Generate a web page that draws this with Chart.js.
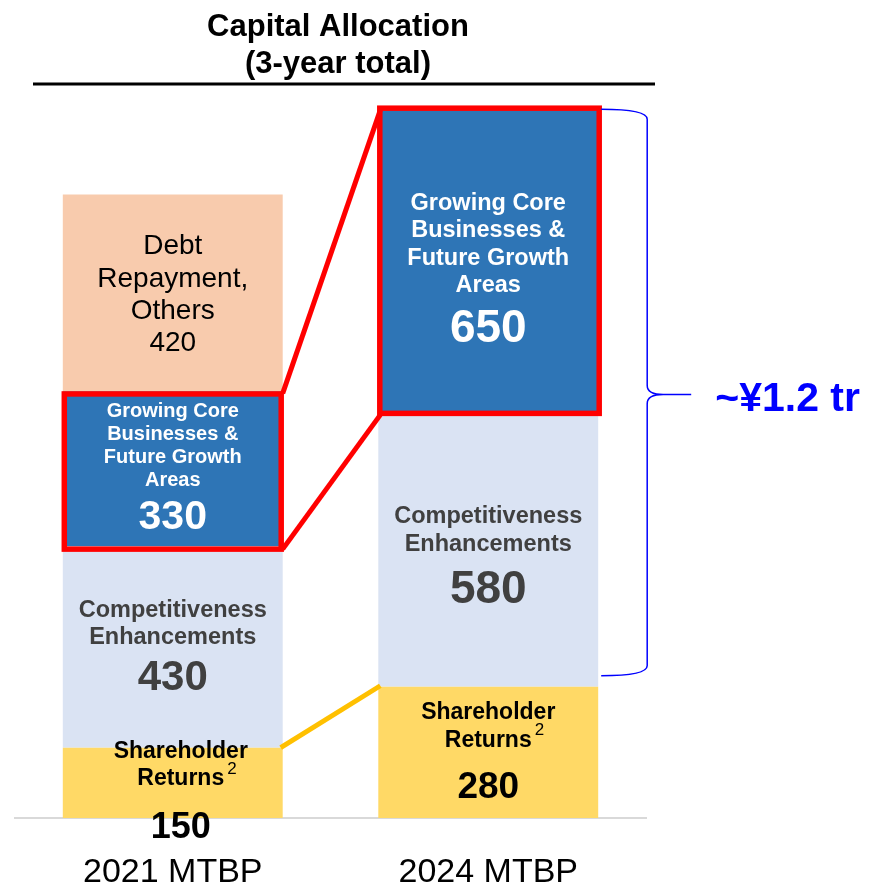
<!DOCTYPE html>
<html>
<head>
<meta charset="utf-8">
<script src="https://cdn.jsdelivr.net/npm/chart.js@4"></script>
<style>
html,body{margin:0;padding:0;background:#fff;overflow:hidden;}
canvas{display:block;}
</style>
</head>
<body>
<canvas id="c" width="869" height="885"></canvas>
<script>
// ---- data ----
const categories = ['2021 MTBP', '2024 MTBP'];
const shareholderReturns = [150, 280];
const competitiveness = [430, 580];
const growingCore = [330, 650];
const debtRepayment = [420, 0];
const titleLines = ['Capital Allocation', '(3-year total)'];
const totalLabel = '~\u00a51.2 tr';

const FONT = '"Liberation Sans", Arial, sans-serif';
const C_YELLOW = '#FFD966', C_LIGHT = '#DAE3F3', C_BLUE = '#2E75B6', C_PEACH = '#F8CBAD';

// label layouts per dataset per bar (styles only, values come from arrays)
function labelSpec(ds, i) {
  const v = [shareholderReturns, competitiveness, growingCore, debtRepayment][ds][i];
  if (ds === 0) {
    const dx = i === 0 ? 8 : 0;
    const dys = i === 0 ? [-31, -4, 45] : [-40, -12, 35];
    const numSize = i === 0 ? 36 : 37;
    return [
      {t: 'Shareholder', s: 23, b: true, c: '#000', dy: dys[0], dx},
      {t: 'Returns', s: 23, b: true, c: '#000', dy: dys[1], dx, sup: '2'},
      {t: String(v), s: numSize, b: true, c: '#000', dy: dys[2], dx}
    ];
  }
  if (ds === 1) {
    const dys = i === 0 ? [-36, -9, 32] : [-34, -6, 39];
    const ts = i === 0 ? 23.5 : 23.5, ns = i === 0 ? 42 : 46;
    return [
      {t: 'Competitiveness', s: ts, b: true, c: '#404040', dy: dys[0]},
      {t: 'Enhancements', s: ts, b: true, c: '#404040', dy: dys[1]},
      {t: String(v), s: ns, b: true, c: '#404040', dy: dys[2]}
    ];
  }
  if (ds === 2) {
    const dys = i === 0 ? [-57, -34, -11, 12, 49] : [-59, -32, -4, 23, 67];
    const ts = i === 0 ? 20 : 23.5, ns = i === 0 ? 41 : 46;
    return [
      {t: 'Growing Core', s: ts, b: true, c: '#fff', dy: dys[0]},
      {t: 'Businesses &', s: ts, b: true, c: '#fff', dy: dys[1]},
      {t: 'Future Growth', s: ts, b: true, c: '#fff', dy: dys[2]},
      {t: 'Areas', s: ts, b: true, c: '#fff', dy: dys[3]},
      {t: String(v), s: ns, b: true, c: '#fff', dy: dys[4]}
    ];
  }
  if (ds === 3 && v) {
    return [
      {t: 'Debt', s: 28, b: false, c: '#000', dy: -47},
      {t: 'Repayment,', s: 28, b: false, c: '#000', dy: -14},
      {t: 'Others', s: 28, b: false, c: '#000', dy: 18},
      {t: String(v), s: 28, b: false, c: '#000', dy: 50}
    ];
  }
  return [];
}

const overlay = {
  id: 'overlay',
  afterDatasetsDraw(chart) {
    const ctx = chart.ctx;
    const m = k => chart.getDatasetMeta(k).data;
    const sh = m(0), co = m(1), gr = m(2);
    const L = e => e.x - e.width / 2, R = e => e.x + e.width / 2;
    ctx.save();
    ctx.lineCap = 'butt';
    // yellow connector
    ctx.strokeStyle = '#FFC000'; ctx.lineWidth = 5;
    ctx.beginPath(); ctx.moveTo(R(sh[0]) - 2, sh[0].y); ctx.lineTo(L(sh[1]) + 2, sh[1].y - 1); ctx.stroke();
    // red connectors
    ctx.strokeStyle = '#FF0000'; ctx.lineWidth = 5;
    ctx.beginPath(); ctx.moveTo(R(gr[0]), gr[0].y + 2); ctx.lineTo(L(gr[1]) + 2, gr[1].y); ctx.stroke();
    ctx.beginPath(); ctx.moveTo(R(gr[0]), gr[0].base + 3); ctx.lineTo(L(gr[1]) + 2, gr[1].base); ctx.stroke();
    // red boxes
    ctx.lineWidth = 5.5; ctx.lineJoin = 'miter';
    ctx.strokeRect(L(gr[0]) + 1.5, gr[0].y + 2.5, gr[0].width - 3, gr[0].base - gr[0].y + 0.5);
    ctx.strokeRect(L(gr[1]) + 1.5, gr[1].y - 2, gr[1].width - 0.5, gr[1].base - gr[1].y + 0.5);
    // labels
    ctx.textAlign = 'center'; ctx.textBaseline = 'middle';
    for (let ds = 0; ds < 4; ds++) {
      m(ds).forEach((e, i) => {
        const cy = (e.y + e.base) / 2;
        labelSpec(ds, i).forEach(l => {
          ctx.font = (l.b ? 'bold ' : '') + l.s + 'px ' + FONT;
          ctx.fillStyle = l.c;
          const x = e.x + (l.dx || 0), y = cy + l.dy;
          ctx.fillText(l.t, x, y);
          if (l.sup) {
            const w = ctx.measureText(l.t).width;
            ctx.font = '17px ' + FONT;
            ctx.textAlign = 'left';
            ctx.fillText(l.sup, x + w / 2 + 3, y - 10);
            ctx.textAlign = 'center';
          }
        });
      });
    }
    // brace
    const top = gr[1].y - 1, bottom = co[1].base - 11, mid = (top + bottom) / 2 + 2;
    const x0 = R(gr[1]) + 3, xv = x0 + 46, tip = xv + 44;
    ctx.strokeStyle = '#0000FF'; ctx.lineWidth = 1.5;
    ctx.beginPath();
    ctx.moveTo(x0, top);
    ctx.quadraticCurveTo(xv, top, xv, top + 10);
    ctx.lineTo(xv, mid - 9);
    ctx.quadraticCurveTo(xv, mid, xv + 16, mid);
    ctx.lineTo(tip, mid);
    ctx.moveTo(xv + 16, mid);
    ctx.quadraticCurveTo(xv, mid, xv, mid + 9);
    ctx.lineTo(xv, bottom - 10);
    ctx.quadraticCurveTo(xv, bottom, x0, bottom);
    ctx.stroke();
    ctx.fillStyle = '#0000FF';
    ctx.font = 'bold 41px ' + FONT;
    ctx.textAlign = 'left'; ctx.textBaseline = 'middle';
    ctx.fillText(totalLabel, tip + 24, mid + 5);
    // title
    ctx.fillStyle = '#000'; ctx.textAlign = 'center';
    ctx.font = 'bold 31px ' + FONT;
    ctx.fillText(titleLines[0], 338, 27);
    ctx.fillText(titleLines[1], 338, 64);
    ctx.strokeStyle = '#000'; ctx.lineWidth = 3;
    ctx.beginPath(); ctx.moveTo(33, 84); ctx.lineTo(655, 84); ctx.stroke();
    ctx.restore();
  }
};

new Chart(document.getElementById('c'), {
  type: 'bar',
  data: {
    labels: categories,
    datasets: [
      {label: 'Shareholder Returns', data: shareholderReturns, backgroundColor: C_YELLOW},
      {label: 'Competitiveness Enhancements', data: competitiveness, backgroundColor: C_LIGHT},
      {label: 'Growing Core Businesses & Future Growth Areas', data: growingCore, backgroundColor: C_BLUE},
      {label: 'Debt Repayment, Others', data: debtRepayment, backgroundColor: C_PEACH}
    ]
  },
  options: {
    responsive: false,
    animation: false,
    devicePixelRatio: 1,
    layout: {padding: {left: 15, right: 223, top: 68, bottom: 0}},
    datasets: {bar: {barPercentage: 0.697, categoryPercentage: 1, borderWidth: 0}},
    plugins: {legend: {display: false}, tooltip: {enabled: false}, title: {display: false}},
    scales: {
      x: {
        stacked: true,
        grid: {display: false, drawTicks: false},
        border: {display: true, color: '#D9D9D9', width: 2},
        ticks: {color: '#000', font: {family: FONT, size: 34}, padding: 34},
        afterFit: s => { s.height = 67; }
      },
      y: {stacked: true, display: false, min: 0, max: 1600}
    }
  },
  plugins: [overlay]
});
</script>
</body>
</html>
